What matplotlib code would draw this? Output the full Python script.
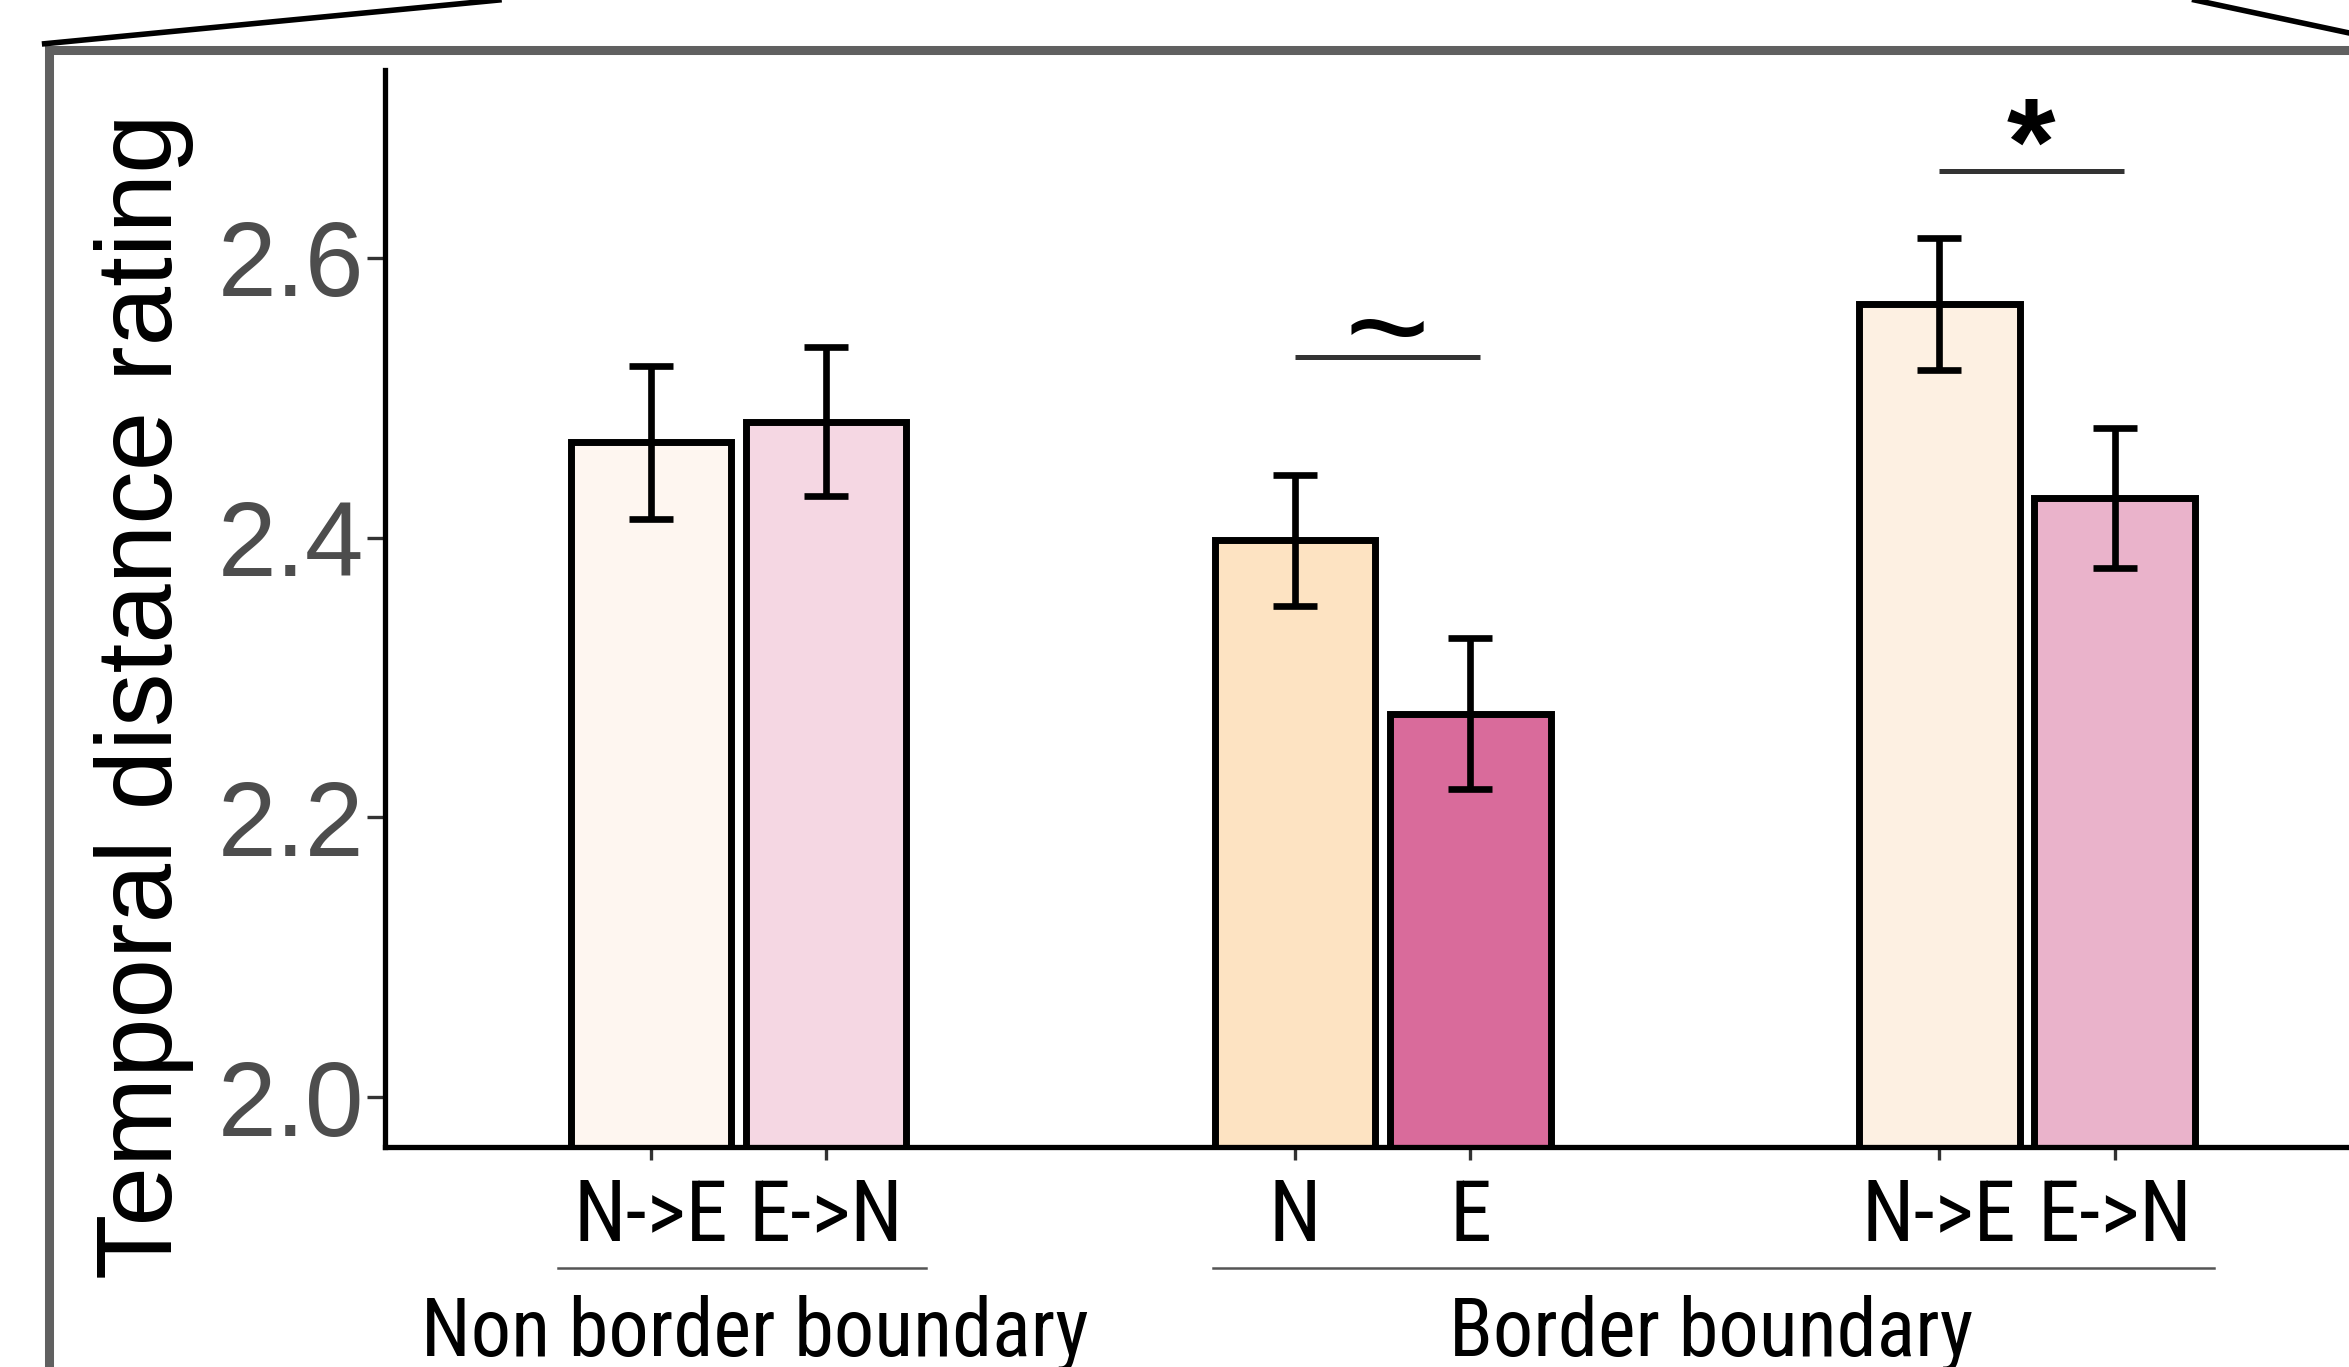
import matplotlib
matplotlib.use("Agg")
import matplotlib.pyplot as plt
import matplotlib.transforms as mtransforms
from matplotlib import font_manager
from matplotlib.lines import Line2D

# data
tick_labels = ["N->E", "E->N", "N", "E", "N->E", "E->N"]
means = [2.468, 2.483, 2.398, 2.274, 2.567, 2.428]
errs = [0.055, 0.053, 0.047, 0.054, 0.047, 0.050]
bar_colors = ["#FEF6F0", "#F5D7E3", "#FDE3C2", "#D96B9B", "#FDF0E2", "#EAB3CB"]
group_centers = [1, 2, 3]
group_labels = ["Non border boundary", "Border boundary"]
y_ticks = [2.0, 2.2, 2.4, 2.6]

# the x labels in the reference are set in a narrow face
installed = {f.name for f in font_manager.fontManager.ttflist}
narrow = None
for name in ["Liberation Sans Narrow", "Roboto Condensed", "DejaVu Sans Condensed"]:
    if name in installed:
        narrow = name
        break
if narrow:
    xfam, xsize, gsize = [narrow, "DejaVu Sans"], 61, 58
else:
    xfam, xsize, gsize = ["Liberation Sans", "DejaVu Sans"], 53, 50

plt.rcParams["font.family"] = ["Liberation Sans", "DejaVu Sans"]

fig = plt.figure(figsize=(23.49, 13.67), dpi=100)
ax = fig.add_axes([0.1639, 0.1612, 0.8361, 0.7873])

off = 0.136
width = 0.249
xs = []
for g in group_centers:
    xs += [g - off, g + off]

ax.bar(xs, means, width=width, bottom=0, color=bar_colors,
       edgecolor="black", linewidth=5.0, zorder=2)
ax.errorbar(xs, means, yerr=errs, fmt="none", ecolor="black",
            elinewidth=4.8, capsize=16, capthick=4.8, zorder=3)

ax.set_ylim(1.9646, 2.734)
ax.set_xlim(0.451, 3.5)
ax.set_yticks(y_ticks)
ax.set_yticklabels([f"{v:.1f}" for v in y_ticks])
ax.set_xticks(xs)
ax.set_xticklabels(tick_labels, family=xfam)

for s in ["top", "right"]:
    ax.spines[s].set_visible(False)
for s in ["left", "bottom"]:
    ax.spines[s].set_linewidth(3.8)
    ax.spines[s].set_color("black")

ax.tick_params(axis="y", length=13, width=2.4, color="#333333",
               labelcolor="#4D4D4D", labelsize=76, pad=2)
ax.tick_params(axis="x", length=9, width=2.4, color="#333333",
               labelcolor="black", labelsize=xsize, pad=19 if not narrow else 13)

ax.set_ylabel("Temporal distance rating", fontsize=77)
ax.yaxis.set_label_coords(-0.097, 0.419)

# group separators and labels below the ticks
trans = mtransforms.blended_transform_factory(ax.transData, fig.transFigure)
spans = [(group_centers[0] - off - width / 2 - 0.02, group_centers[0] + off + width / 2 + 0.03),
         (group_centers[1] - off - width / 2 - 0.003, group_centers[2] + off + width / 2 + 0.03)]
label_x = [group_centers[0] + 0.025, (group_centers[1] + group_centers[2]) / 2 + 0.01]
for (x0, x1), lx, lab in zip(spans, label_x, group_labels):
    ax.add_line(Line2D([x0, x1], [0.0724, 0.0724], transform=trans,
                       color="#555555", linewidth=1.8, clip_on=False))
    ax.text(lx, 0.008, lab, transform=trans, ha="center", va="baseline",
            fontsize=gsize, family=xfam, clip_on=False)

# significance marks
sig = [(1, 2.529, "~", 2.515, 105, "normal"), (2, 2.662, "*", 2.652, 90, "bold")]
for gi, yv, mark, ybase, fs, wt in sig:
    gc = group_centers[gi]
    ax.plot([gc - off, gc + off + 0.015], [yv, yv], color="#333333",
            linewidth=3.6, solid_capstyle="butt", zorder=3)
    ax.text(gc + 0.007, ybase, mark, ha="center", va="baseline",
            fontsize=fs, fontweight=wt, zorder=4)

# frame of the zoomed inset and the connector lines
fig.add_artist(Line2D([0.021, 0.021, 1.1], [-0.1, 0.9635, 0.9635],
                      transform=fig.transFigure, color="#606060", linewidth=6.5,
                      solid_joinstyle="miter"))
fig.add_artist(Line2D([0.019, 0.2124], [0.968, 1.0], transform=fig.transFigure,
                      color="black", linewidth=4.0))
fig.add_artist(Line2D([0.9343, 1.0], [1.0, 0.9759], transform=fig.transFigure,
                      color="black", linewidth=4.0))

fig.savefig("out.png", dpi=100)
